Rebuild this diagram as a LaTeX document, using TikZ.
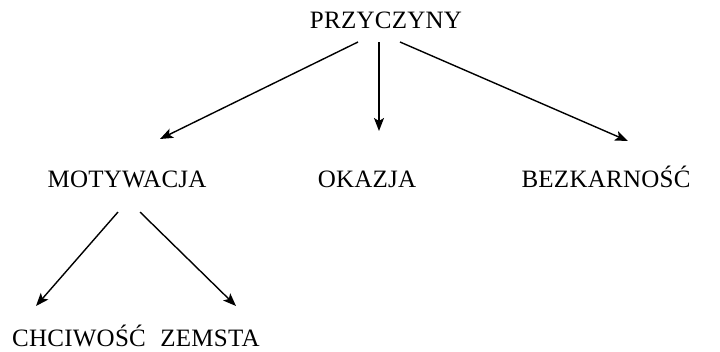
\documentclass[tikz,border=0pt]{standalone}
\usepackage{fontspec}
\setmainfont{Liberation Serif}[LetterSpace=1]
\usetikzlibrary{arrows.meta}
\begin{document}
\begin{tikzpicture}[x=1pt,y=-1pt,
  lbl/.style={anchor=base,inner sep=0pt,font=\fontsize{25}{28}\selectfont},
  arr/.style={-{Stealth[length=13pt,width=10pt,inset=3pt]},line width=1.4pt}]
\useasboundingbox[fill=white] (0,0) rectangle (720,351);
\node[lbl] (p) at (386,28) {PRZYCZYNY};
\node[lbl] (m) at (127,187) {MOTYWACJA};
\node[lbl] (o) at (367,187) {OKAZJA};
\node[lbl] (b) at (606,187) {BEZKARNOŚĆ};
\node[lbl] (c) at (79,346) {CHCIWOŚĆ};
\node[lbl] (z) at (210,346) {ZEMSTA};
\draw[arr] ([shift={(-28pt,-14pt)}]p.base) -- ([shift={(33pt,48pt)}]m.base);
\draw[arr] ([shift={(-7pt,-14pt)}]p.base) -- ([shift={(12pt,56pt)}]o.base);
\draw[arr] ([shift={(14pt,-14pt)}]p.base) -- ([shift={(22pt,46pt)}]b.base);
\draw[arr] ([shift={(-9pt,-25pt)}]m.base) -- ([shift={(-43pt,40pt)}]c.base);
\draw[arr] ([shift={(13pt,-25pt)}]m.base) -- ([shift={(26pt,40pt)}]z.base);
\end{tikzpicture}
\end{document}
